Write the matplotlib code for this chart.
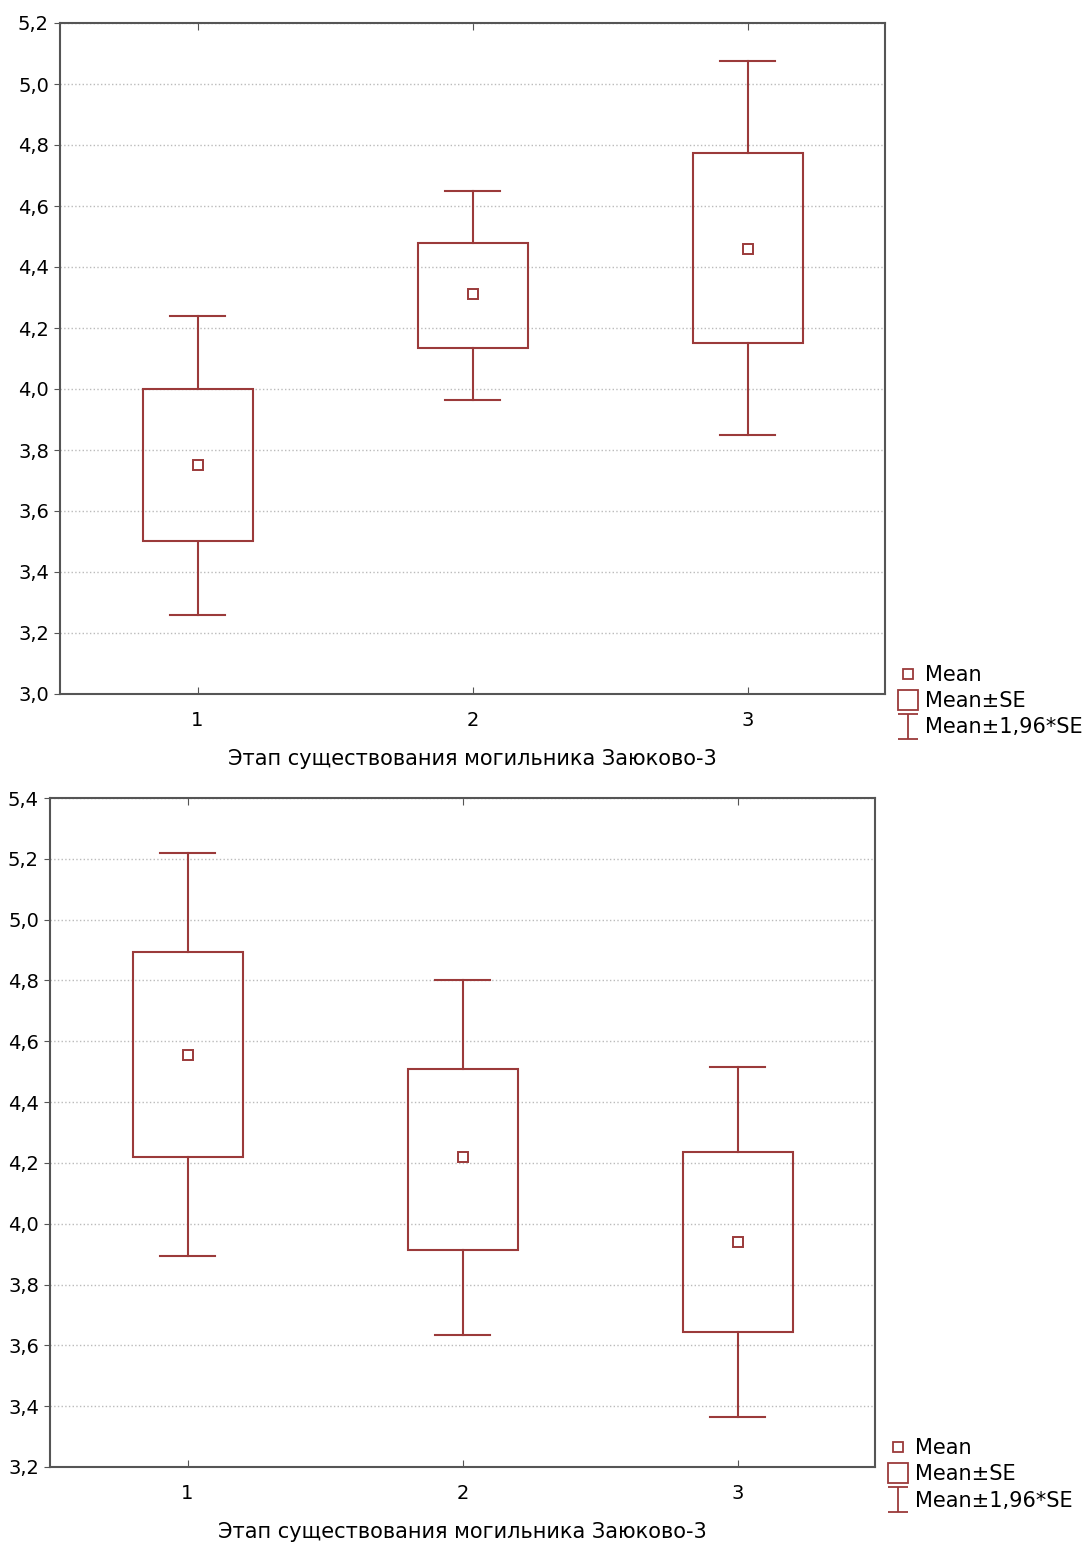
import matplotlib.pyplot as plt
from matplotlib.lines import Line2D
from matplotlib.path import Path
from matplotlib.ticker import FuncFormatter
import numpy as np

# stages of the burial ground
stages = [1, 2, 3]

# top panel
top_mean = [3.75, 4.31, 4.46]
top_se_low = [3.50, 4.135, 4.15]
top_se_high = [4.00, 4.48, 4.775]
top_ci_low = [3.26, 3.965, 3.85]
top_ci_high = [4.24, 4.65, 5.075]
top_yticks = [3.0, 3.2, 3.4, 3.6, 3.8, 4.0, 4.2, 4.4, 4.6, 4.8, 5.0, 5.2]

# bottom panel
bot_mean = [4.555, 4.22, 3.94]
bot_se_low = [4.22, 3.915, 3.645]
bot_se_high = [4.895, 4.51, 4.235]
bot_ci_low = [3.895, 3.635, 3.365]
bot_ci_high = [5.22, 4.80, 4.515]
bot_yticks = [3.2, 3.4, 3.6, 3.8, 4.0, 4.2, 4.4, 4.6, 4.8, 5.0, 5.2, 5.4]

XLABEL = "Этап существования могильника Заюково-3"
COLOR = "#9b3a3a"
FRAME = "#555555"

plt.rcParams['font.family'] = ['DejaVu Sans']

# I-shaped marker for the whisker legend entry
whisker_marker = Path(
  [(-0.8, -1), (0.8, -1), (0, -1), (0, 1), (-0.8, 1), (0.8, 1)],
  [Path.MOVETO, Path.LINETO, Path.MOVETO, Path.LINETO, Path.MOVETO, Path.LINETO]
)


def draw_panel(ax, mean, se_low, se_high, ci_low, ci_high, yticks):
  x = np.array(stages, dtype=float)
  box_w = 0.4
  cap_w = 0.2
  for xi, m, sl, sh, cl, ch in zip(x, mean, se_low, se_high, ci_low, ci_high):
    ax.add_patch(plt.Rectangle((xi - box_w / 2, sl), box_w, sh - sl,
                               fill=False, edgecolor=COLOR, lw=1.5, zorder=3))
    ax.plot([xi, xi], [sh, ch], color=COLOR, lw=1.5, zorder=3)
    ax.plot([xi, xi], [cl, sl], color=COLOR, lw=1.5, zorder=3)
    ax.plot([xi - cap_w / 2, xi + cap_w / 2], [ch, ch], color=COLOR, lw=1.5, zorder=3)
    ax.plot([xi - cap_w / 2, xi + cap_w / 2], [cl, cl], color=COLOR, lw=1.5, zorder=3)
  ax.plot(x, mean, ls='none', marker='s', ms=7, mfc='white', mec=COLOR, mew=1.4, zorder=4)

  ax.set_xlim(0.5, 3.5)
  ax.set_ylim(yticks[0], yticks[-1])
  ax.set_xticks(stages)
  ax.set_yticks(yticks)
  ax.yaxis.set_major_formatter(FuncFormatter(lambda v, p: f"{v:.1f}".replace('.', ',')))
  ax.grid(axis='y', ls=':', color='#bbbbbb', lw=1)
  ax.set_axisbelow(True)
  ax.tick_params(axis='x', direction='in', top=True, length=5, color=FRAME,
                 labelsize=14, pad=12)
  ax.tick_params(axis='y', direction='out', length=4, color=FRAME, labelsize=14, pad=4)
  for s in ax.spines.values():
    s.set_color(FRAME)
    s.set_linewidth(1.5)
  ax.set_xlabel(XLABEL, fontsize=15, labelpad=14)

  handles = [
    Line2D([], [], ls='none', marker='s', ms=7, mfc='none', mec=COLOR, mew=1.3),
    Line2D([], [], ls='none', marker='s', ms=15, mfc='none', mec=COLOR, mew=1.3),
    Line2D([], [], ls='none', marker=whisker_marker, ms=18, mfc='none', mec=COLOR, mew=1.3),
  ]
  ax.legend(handles, ["Mean", "Mean±SE", "Mean±1,96*SE"], loc='upper left',
            bbox_to_anchor=(1.0, 0.065), frameon=False, fontsize=15,
            handlelength=0.8, handletextpad=0.4, labelspacing=0.3,
            borderaxespad=0.3)


fig = plt.figure(figsize=(10.85, 15.46), dpi=100)
W, H = 1085, 1546
ax1 = fig.add_axes([60 / W, 1 - 694 / H, 825 / W, 671 / H])
ax2 = fig.add_axes([50 / W, 1 - 1467 / H, 825 / W, 669 / H])

draw_panel(ax1, top_mean, top_se_low, top_se_high, top_ci_low, top_ci_high, top_yticks)
draw_panel(ax2, bot_mean, bot_se_low, bot_se_high, bot_ci_low, bot_ci_high, bot_yticks)

fig.savefig("out.png", dpi=100)
plt.close()
